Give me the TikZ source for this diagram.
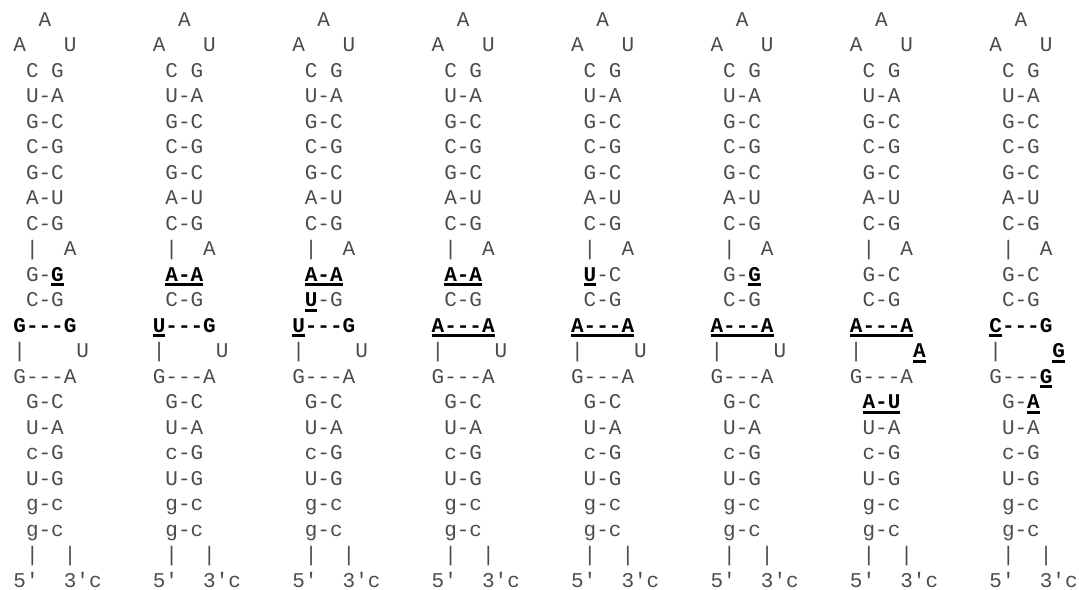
\documentclass[tikz,border=0pt]{standalone}
\usepackage{fontspec}
\setmonofont{Liberation Mono}
\usepackage{xcolor}

\newcommand{\seqfont}{\fontsize{10.5}{12}\selectfont\ttfamily}
\newcommand{\bld}[1]{\textcolor{black}{\bfseries #1}}
\newcommand{\mut}[1]{{\color{black}\bfseries\setbox0\hbox{#1}\rlap{\rule[-2.6pt]{\wd0}{1.4pt}}\box0}}
% one stem-loop: #1 = column, #2..#7 = rows 11 to 16
\newcommand{\hairpin}[7]{%
  \foreach \txt [count=\row] in {~~A, A~~~U, ~C~G, ~U-A, ~G-C, ~C-G, ~G-C, ~A-U, ~C-G, ~|~~A,
      {#2}, {#3}, {#4}, {#5}, {#6}, {#7},
      ~U-A, ~c-G, ~U-G, ~g-c, ~g-c, ~|~~|, 5′~~3′c}
    \node[nt] (h#1r\row) at ({13+139.43*#1},{26+25.5*(\row-1)}) {\txt};
}

\begin{document}
\begin{tikzpicture}[
  x=0.5pt, y=-0.5pt,
  nt/.style={anchor=base west,inner sep=0pt,font=\seqfont,text=black!70}
]
  \useasboundingbox (0,0) rectangle (1079,589);
  \hairpin{0}{~G-\mut{G}}{~C-G}{\bld{G---G}}{|~~~~U}{G---A}{~G-C}
  \hairpin{1}{~\mut{A-A}}{~C-G}{\mut{U}\bld{---G}}{|~~~~U}{G---A}{~G-C}
  \hairpin{2}{~\mut{A-A}}{~\mut{U}-G}{\mut{U}\bld{---G}}{|~~~~U}{G---A}{~G-C}
  \hairpin{3}{~\mut{A-A}}{~C-G}{\mut{A---A}}{|~~~~U}{G---A}{~G-C}
  \hairpin{4}{~\mut{U}-C}{~C-G}{\mut{A---A}}{|~~~~U}{G---A}{~G-C}
  \hairpin{5}{~G-\mut{G}}{~C-G}{\mut{A---A}}{|~~~~U}{G---A}{~G-C}
  \hairpin{6}{~G-C}{~C-G}{\mut{A---A}}{|~~~~\mut{A}}{G---A}{~\mut{A-U}}
  \hairpin{7}{~G-C}{~C-G}{\mut{C}\bld{---G}}{|~~~~\mut{G}}{G---\mut{G}}{~G-\mut{A}}
\end{tikzpicture}
\end{document}
